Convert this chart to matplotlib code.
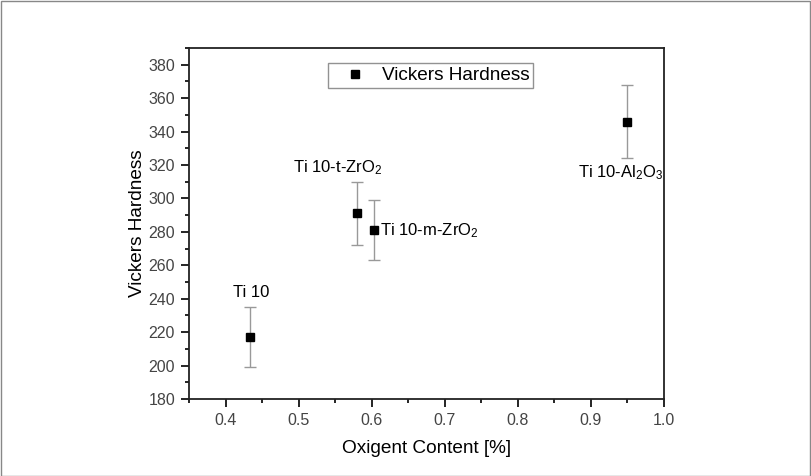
import matplotlib
matplotlib.use('Agg')
import matplotlib.pyplot as plt
import matplotlib.patches as patches
import matplotlib.lines as lines
from matplotlib.ticker import MultipleLocator

plt.rcParams['font.family'] = ['Liberation Sans', 'DejaVu Sans']
plt.rcParams['mathtext.fontset'] = 'custom'
plt.rcParams['mathtext.rm'] = 'Liberation Sans'
plt.rcParams['mathtext.it'] = 'Liberation Sans'

oxygen = [0.433, 0.580, 0.603, 0.950]
hardness = [217, 291, 281, 346]
hardness_err = [18, 19, 18, 22]
names = ['Ti 10', r'Ti 10-t-ZrO$_2$', r'Ti 10-m-ZrO$_2$', r'Ti 10-Al$_2$O$_3$']

fig = plt.figure(figsize=(8.11, 4.76), dpi=100)
ax = fig.add_axes([189/811, 1 - 399/476, (664-189)/811, (399-48)/476])

ax.errorbar(oxygen, hardness, yerr=hardness_err, fmt='s', color='black', ms=6,
            ecolor='#999999', elinewidth=1.0, capsize=4, capthick=1.0)

# labels next to the points
ax.text(oxygen[0] + 0.002, 239, names[0], ha='center', va='bottom', fontsize=12)
ax.text(oxygen[1] - 0.027, 313, names[1], ha='center', va='bottom', fontsize=12)
ax.text(oxygen[2] + 0.008, hardness[2], names[2], ha='left', va='center', fontsize=12)
ax.text(oxygen[3] - 0.009, 321, names[3], ha='center', va='top', fontsize=12)

ax.set_xlim(0.35, 1.0)
ax.set_ylim(180, 390)
ax.xaxis.set_major_locator(MultipleLocator(0.1))
ax.xaxis.set_minor_locator(MultipleLocator(0.05))
ax.yaxis.set_major_locator(MultipleLocator(20))
ax.yaxis.set_minor_locator(MultipleLocator(10))
ax.tick_params(which='both', direction='out', top=False, right=False,
               labelsize=11.5, labelcolor='#444444', width=1.2, pad=4)
ax.tick_params(which='major', length=6)
ax.tick_params(which='minor', length=3)
for s in ax.spines.values():
    s.set_linewidth(1.3)
    s.set_color('#222222')

ax.set_xlabel('Oxigent Content [%]', fontsize=13.7, labelpad=9)
ax.set_ylabel('Vickers Hardness', fontsize=13.7, labelpad=2)

handle = lines.Line2D([], [], marker='s', ls='none', color='black', ms=6)
leg = ax.legend([handle], ['Vickers Hardness'], loc='upper center',
                bbox_to_anchor=(0.509, 0.957), borderaxespad=0, fontsize=13.7,
                frameon=True, fancybox=False, handlelength=2.4, numpoints=1,
                borderpad=0.2, handletextpad=0.2)
leg.get_frame().set_edgecolor('#777777')
leg.get_frame().set_linewidth(1.0)

fig.patches.append(patches.Rectangle((0.001, 0.001), 0.998, 0.997, transform=fig.transFigure,
                                     fill=False, edgecolor='#888888', linewidth=1))

plt.savefig('out.png', dpi=100)
